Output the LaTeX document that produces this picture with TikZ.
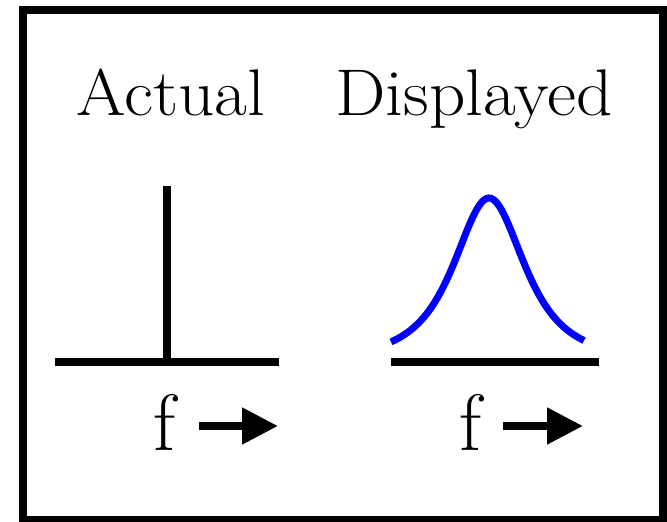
\documentclass[tikz,border=0pt]{standalone}
\usepackage{tikz}
\usepackage{graphicx}
\usetikzlibrary{arrows.meta}
\definecolor{spreadblue}{HTML}{0000FF}
\newcommand{\headtext}[1]{\scalebox{1.08}[1]{#1}}

\begin{document}
\begin{tikzpicture}[
  x=1pt, y=-1pt,
  frame/.style={draw, line width=8pt},
  heading/.style={inner sep=0pt, anchor=base, font=\fontsize{66}{72}\selectfont},
  freq/.style={inner sep=0pt, anchor=base, font=\fontsize{80}{90}\selectfont},
  axisline/.style={line width=8pt, black},
  spike/.style={line width=8pt, black},
  spread/.style={line width=7pt, spreadblue},
  farr/.style={-{Triangle[length=36pt, width=35pt]}, line width=8pt, black}
]
  \useasboundingbox (0,0) rectangle (667,522);
  \draw[frame] (23,10) rectangle (663,520);

  \node[heading] (actual) at (171,115) {\headtext{Actual}};
  \node[heading] (displayed) at (474,115) {\headtext{Displayed}};

  % actual: a single line
  \coordinate (a1) at (55,362);
  \coordinate (a2) at (279,362);
  \coordinate (peak) at (167,186);
  \draw[axisline] (a1) -- (a2);
  \draw[spike] (peak) -- (peak |- a1);

  % displayed: spread out
  \coordinate (d1) at (391,362);
  \coordinate (d2) at (599,362);
  \draw[axisline] (d1) -- (d2);
  \draw[spread] plot[domain=-98:95, samples=90]
    ({489+\x}, {361-163/((1+(\x/55)^2)^1.5)});

  \node[freq] (fa) at (165,450) {f};
  \coordinate (fa1) at (199,426);
  \coordinate (fa2) at (278,426);
  \draw[farr] (fa1) -- (fa2);

  \node[freq] (fd) at (471,450) {f};
  \coordinate (fd1) at (503,426);
  \coordinate (fd2) at (583,426);
  \draw[farr] (fd1) -- (fd2);
\end{tikzpicture}
\end{document}
